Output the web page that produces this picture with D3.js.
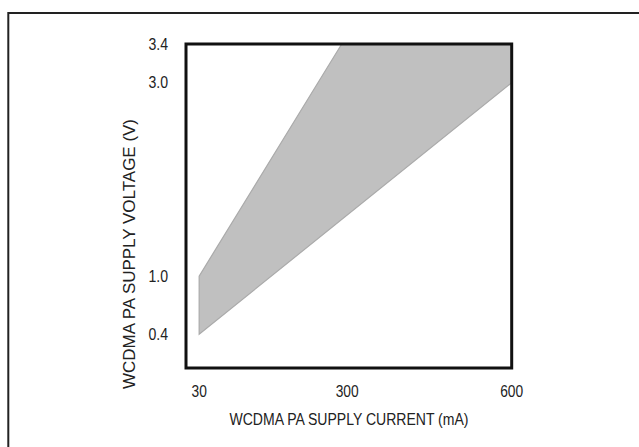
<!DOCTYPE html>
<html>
<head>
<meta charset="utf-8">
<script src="https://cdn.jsdelivr.net/npm/d3@7"></script>
<style>
  html, body { margin: 0; padding: 0; background: #fff; }
  text { font-family: "Liberation Sans", Arial, sans-serif; font-weight: normal; fill: #222; }
</style>
</head>
<body>
<div id="chart"></div>
<script>
const width = 639;
const height = 447;

// axis extents and tick labels
const xExtent = [6, 600];
const yExtent = [0.05, 3.4];
const xTicks = [30, 300, 600];
const yTicks = [0.4, 1.0, 3.0, 3.4];

// operating region outline (current mA, voltage V)
const regionCurrent = [30, 30, 290, 600, 600];
const regionVoltage = [0.4, 1.0, 3.4, 3.4, 3.0];

const svg = d3.select("#chart")
    .append("svg")
    .attr("width", width)
    .attr("height", height);

// outer frame, open at right and bottom
svg.append("rect")
    .attr("x", 8.3)
    .attr("y", 13)
    .attr("width", width + 20)
    .attr("height", height + 20)
    .attr("fill", "none")
    .attr("stroke", "#222")
    .attr("stroke-width", 2);

const x = d3.scaleLinear().domain(xExtent).range([186, 511.7]);
const y = d3.scaleLinear().domain(yExtent).range([368, 44]);

const pts = regionCurrent.map((c, i) => [x(c), y(regionVoltage[i])]);

svg.append("path")
    .attr("d", d3.line()(pts) + "Z")
    .attr("fill", "#c0c0c0")
    .attr("stroke", "#aaaaaa")
    .attr("stroke-width", 1.2);

// plot frame
svg.append("rect")
    .attr("x", x(xExtent[0]))
    .attr("y", y(yExtent[1]))
    .attr("width", x(xExtent[1]) - x(xExtent[0]))
    .attr("height", y(yExtent[0]) - y(yExtent[1]))
    .attr("fill", "none")
    .attr("stroke", "#111")
    .attr("stroke-width", 3);

// narrow the glyphs, the original uses a condensed face
function squeeze(sel, k) {
    sel.each(function() {
        const w = this.getComputedTextLength();
        d3.select(this)
            .attr("textLength", w * k)
            .attr("lengthAdjust", "spacingAndGlyphs");
    });
}

svg.selectAll(".xlab")
    .data(xTicks)
    .enter().append("text")
    .attr("class", "xlab")
    .attr("x", d => x(d))
    .attr("y", 397)
    .attr("text-anchor", "middle")
    .style("font-size", "16px")
    .text(d => d)
    .call(squeeze, 0.86);

svg.selectAll(".ylab")
    .data(yTicks)
    .enter().append("text")
    .attr("class", "ylab")
    .attr("x", 168)
    .attr("y", d => y(d))
    .attr("dy", "0.35em")
    .attr("text-anchor", "end")
    .style("font-size", "16px")
    .text(d => d3.format(".1f")(d))
    .call(squeeze, 0.88);

svg.append("text")
    .attr("x", 349)
    .attr("y", 425)
    .attr("text-anchor", "middle")
    .style("font-size", "16px")
    .attr("textLength", 239)
    .attr("lengthAdjust", "spacingAndGlyphs")
    .text("WCDMA PA SUPPLY CURRENT (mA)");

svg.append("text")
    .attr("transform", "translate(135,254) rotate(-90)")
    .attr("text-anchor", "middle")
    .style("font-size", "16px")
    .attr("textLength", 270)
    .attr("lengthAdjust", "spacingAndGlyphs")
    .text("WCDMA PA SUPPLY VOLTAGE (V)");
</script>
</body>
</html>
